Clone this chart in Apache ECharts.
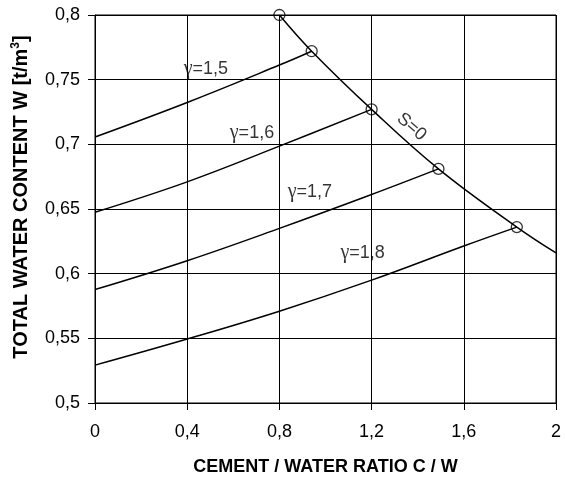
<!DOCTYPE html>
<html>
<head>
<meta charset="utf-8">
<script src="https://cdn.jsdelivr.net/npm/echarts@6/dist/echarts.min.js"></script>
<style>
  html, body { margin: 0; padding: 0; background: #fff; }
  #chart { width: 565px; height: 485px; }
</style>
</head>
<body>
<div id="chart"></div>
<script>
// Tick labels (decimal comma)
const xTickLabels = ['0', '0,4', '0,8', '1,2', '1,6', '2'];
const yTickLabels = ['0,5', '0,55', '0,6', '0,65', '0,7', '0,75', '0,8'];

// Curves of constant specific gravity γ: C/W ratio vs total water content
const gammaNames = ['1,5', '1,6', '1,7', '1,8'];
const g15X = [0, 0.4, 0.8, 0.94];
const g15W = [0.7057, 0.7324, 0.7613, 0.772];
const g16X = [0, 0.4, 0.8, 1.2];
const g16W = [0.6475, 0.671, 0.6986, 0.727];
const g17X = [0, 0.4, 0.8, 1.2, 1.49];
const g17W = [0.5877, 0.610, 0.635, 0.6612, 0.681];
const g18X = [0, 0.4, 0.8, 1.2, 1.6, 1.83];
const g18W = [0.5293, 0.5495, 0.571, 0.595, 0.6214, 0.636];

// Saturation boundary S=0
const s0X = [0.8, 0.94, 1.2, 1.49, 1.83, 2];
const s0W = [0.8, 0.772, 0.727, 0.681, 0.636, 0.616];
const s0Markers = 5; // first five points carry a circle

// Anchor points for the curve captions, in data units
const gammaLabelAt = [[0.481, 0.7582], [0.681, 0.7087], [0.932, 0.663], [1.161, 0.6158]];
const s0LabelAt = [1.373, 0.7135];

const zip = (xs, ys) => xs.map((x, i) => [x, ys[i]]);

const lineStyle = { color: '#000', width: 1.5 };
function curve(name, xs, ys) {
  return {
    name, type: 'line', data: zip(xs, ys), smooth: 0.4,
    showSymbol: false, symbol: 'none', lineStyle, silent: true, z: 3
  };
}

const gammaCurves = [[g15X, g15W], [g16X, g16W], [g17X, g17W], [g18X, g18W]];

const series = gammaCurves.map((c, i) => curve('γ=' + gammaNames[i], c[0], c[1]));
series.push(curve('S=0', s0X, s0W));
series.push({
  name: 'S=0 points', type: 'scatter',
  data: zip(s0X, s0W).slice(0, s0Markers),
  symbol: 'circle', symbolSize: 11,
  itemStyle: { color: 'rgba(0,0,0,0)', borderColor: '#000', borderWidth: 1.3 },
  silent: true, z: 4
});
series.push({
  name: 'captions', type: 'scatter', symbolSize: 0, silent: true, z: 5,
  data: gammaLabelAt.map((p, i) => ({ value: p, caption: gammaNames[i] })),
  label: {
    show: true, position: 'inside',
    formatter: p => '{g|γ}{t|=' + p.data.caption + '}',
    rich: {
      g: { fontFamily: 'Liberation Serif', fontSize: 20, color: '#000' },
      t: { fontFamily: 'Liberation Sans', fontSize: 18, color: '#000' }
    }
  }
});
series.push({
  name: 'S caption', type: 'scatter', symbolSize: 0, silent: true, z: 5,
  data: [{ value: s0LabelAt }],
  label: {
    show: true, position: 'inside', formatter: 'S=0', rotate: -41,
    fontFamily: 'Liberation Sans', fontSize: 18, color: '#000'
  }
});

const chart = echarts.init(document.getElementById('chart'), null, { renderer: 'canvas' });
chart.setOption({
  animation: false,
  backgroundColor: '#fff',
  grid: { left: 95, right: 9, top: 15, bottom: 82, show: true, borderColor: '#000', borderWidth: 1 },
  xAxis: {
    type: 'value', min: 0, max: 2, interval: 0.4,
    name: 'CEMENT / WATER RATIO C / W', nameLocation: 'middle', nameGap: 55,
    nameTextStyle: { fontFamily: 'Liberation Sans', fontWeight: 'bold', fontSize: 18, color: '#000' },
    axisLine: { lineStyle: { color: '#000', width: 1 } },
    axisTick: { show: true, length: 7, lineStyle: { color: '#000' } },
    axisLabel: {
      margin: 20, fontFamily: 'Liberation Sans', fontSize: 18, color: '#000',
      formatter: (v, i) => xTickLabels[i]
    },
    splitLine: { show: true, lineStyle: { color: '#000', width: 1 } }
  },
  yAxis: {
    type: 'value', min: 0.5, max: 0.8, interval: 0.05,
    name: '{a|TOTAL WATER CONTENT W [t/m}{s|3}{a|]}', nameLocation: 'middle', nameGap: 63,
    nameTextStyle: {
      padding: [0, 0, 0, 24],
      rich: {
        a: { fontFamily: 'Liberation Sans', fontWeight: 'bold', fontSize: 20, color: '#000', lineHeight: 22 },
        s: { fontFamily: 'Liberation Sans', fontWeight: 'bold', fontSize: 12, color: '#000', verticalAlign: 'top', lineHeight: 12 }
      }
    },
    axisLine: { lineStyle: { color: '#000', width: 1 } },
    axisTick: { show: true, length: 7, lineStyle: { color: '#000' } },
    axisLabel: {
      margin: 15, fontFamily: 'Liberation Sans', fontSize: 18, color: '#000',
      formatter: (v, i) => yTickLabels[i]
    },
    splitLine: { show: true, lineStyle: { color: '#000', width: 1 } }
  },
  series
});
</script>
</body>
</html>
